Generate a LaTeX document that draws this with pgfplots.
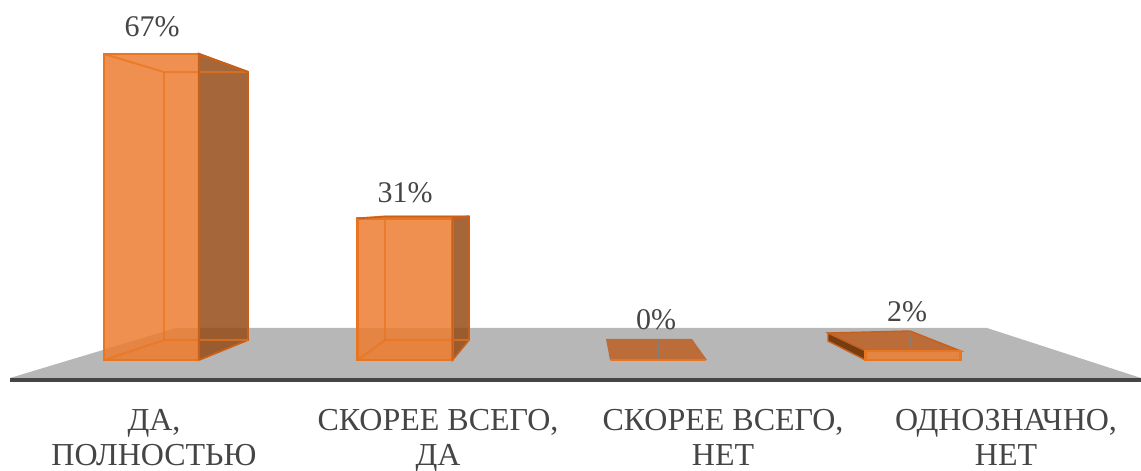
\documentclass[border=0pt]{standalone}
\usepackage{fontspec}
\setmainfont{Liberation Serif}
\usepackage{pgfplots}
\usepackage{pgfplotstable}
\pgfplotsset{compat=1.18}
\definecolor{barfront}{HTML}{ED7D31}
\definecolor{baredge}{HTML}{E87520}
\definecolor{bardark}{HTML}{C8601A}
\definecolor{barside}{HTML}{954C17}
\definecolor{flat}{HTML}{BC6C38}
\definecolor{floorc}{HTML}{B7B7B7}
\definecolor{txt}{HTML}{454545}
\pgfplotstableread{
x y xo yo
151.5 67 0.5 27
405 31 0 25.4
658 0 -2 40
913 2 -6 39
}\bars
\begin{document}
\begin{tikzpicture}
\useasboundingbox (0pt,-92pt) rectangle (1141pt,379pt);
\begin{axis}[
  at={(0pt,0pt)}, anchor=south west,
  scale only axis, width=1141pt, height=379pt,
  xmin=0, xmax=1141, ymin=-4.16, ymax=78.83,
  clip=false,
  axis y line=none, axis x line=bottom,
  x axis line style={draw=none},
  major tick length=0pt,
  xtick={154,438,723,1006},
  xticklabels={{ДА,\\ПОЛНОСТЬЮ},{СКОРЕЕ ВСЕГО,\\ДА},{СКОРЕЕ ВСЕГО,\\НЕТ},{ОДНОЗНАЧНО,\\НЕТ}},
  xticklabel style={align=center, font=\fontsize{32}{35}\selectfont, text=txt, anchor=north, yshift=-27pt},
  /pgf/number format/assume math mode=true,
]
% floor
\addplot[draw=none, fill=floorc] coordinates {(10,-3.94)(176,7.01)(987,7.01)(1141,-3.94)} --cycle;
\addplot[draw=none, fill=flat] coordinates {(606,4.6)(692,4.6)(707,0)(610,0)} --cycle;
\addplot[gray, line width=1.2pt] coordinates {(658,4.38)(659,0)};
% bar 4 top and left
\addplot[draw=bardark, line width=1.4pt, fill=flat] coordinates {(828,5.91)(910,6.35)(960.5,2)(865.5,2)} --cycle;
\addplot[draw=bardark, line width=1.4pt, fill=barside!80!black] coordinates {(828,5.91)(865.5,2)(865.5,0)(828,4.16)} --cycle;
\addplot[gray, line width=1.2pt] coordinates {(909,6.35)(912,2)};
% bar sides
\addplot[draw=bardark, line width=1.8pt, fill=barside, fill opacity=0.85] coordinates {(199,67)(248,63.06)(248,4.38)(199,0)} --cycle;
\addplot[draw=bardark, line width=1.6pt, fill=barside, fill opacity=0.85] coordinates {(452.5,31)(469,31.42)(469,4.38)(452.5,0)} --cycle;
% inner floor of the tall bars
\addplot[draw=none, fill=barfront, fill opacity=0.25] coordinates {(104,0)(164,4.38)(199,4.38)(199,0)} --cycle;
\addplot[draw=none, fill=barfront, fill opacity=0.25] coordinates {(357.5,0)(385,4.38)(452.5,4.38)(452.5,0)} --cycle;
% front faces
\addplot[ybar, bar width=95, draw=baredge, line width=2.2pt, fill=barfront, fill opacity=0.85,
  nodes near coords={\pgfmathprintnumber{\pgfplotspointmeta}\%},
  point meta={\thisrow{y}},
  visualization depends on=\thisrow{xo} \as \xo,
  visualization depends on=\thisrow{yo} \as \yo,
  every node near coord/.append style={anchor=center, xshift=\xo pt, yshift=\yo pt,
     font=\fontsize{30}{34}\selectfont, text=txt, text opacity=1, fill opacity=1, draw=none, inner sep=0pt},
] table[x=x,y=y] {\bars};
% inner edges
\addplot[baredge, line width=2pt, opacity=0.7] coordinates {(104,67)(164,63.06)(248,63.06)};
\addplot[baredge, line width=2pt, opacity=0.7] coordinates {(164,63.06)(164,4.38)};
\addplot[baredge, line width=2pt, opacity=0.7] coordinates {(104,0)(164,4.38)(248,4.38)};
\addplot[baredge, line width=2pt, opacity=0.7] coordinates {(357.5,31)(385,31.42)(469,31.42)};
\addplot[baredge, line width=2pt, opacity=0.7] coordinates {(385,31.42)(385,4.38)};
\addplot[baredge, line width=2pt, opacity=0.7] coordinates {(357.5,0)(385,4.38)(469,4.38)};
\addplot[bardark, line width=2.2pt] coordinates {(199,0)(199,67)(248,63.06)};
\addplot[bardark, line width=2pt] coordinates {(452.5,0)(452.5,31)(469,31.42)};
\addplot[bardark, line width=1.6pt] coordinates {(357.5,31)(385,31.42)(469,31.42)};
% axis line
\addplot[color=txt, line width=3.5pt] coordinates {(10,-4.38)(1141,-4.38)};
\end{axis}
\end{tikzpicture}
\end{document}
